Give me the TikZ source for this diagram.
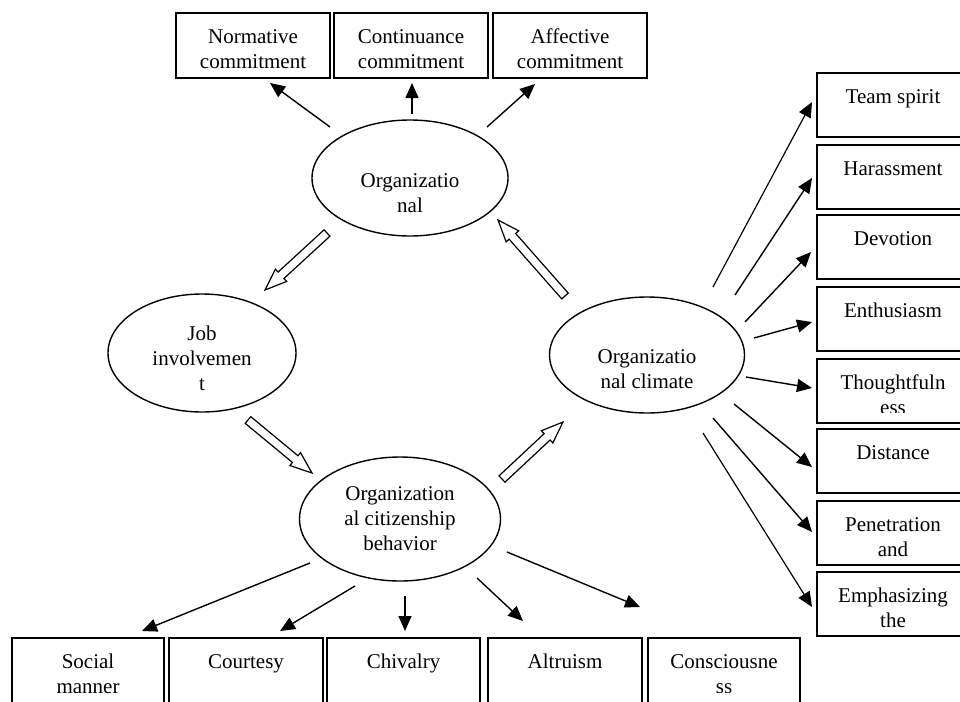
\documentclass[tikz,border=0pt]{standalone}
\usepackage{fontspec}
\setmainfont{Liberation Serif}
\usetikzlibrary{shapes.geometric,shapes.arrows,arrows.meta,calc}
\newcommand{\fs}{\rule{0pt}{16pt}}
\begin{document}
\begin{tikzpicture}[x=1pt,y=-1pt,
  box/.style={draw, line width=1.4pt, rectangle, inner sep=0pt, outer sep=0pt, anchor=north west},
  topbox/.style={box, minimum width=154pt, minimum height=65pt},
  rbox/.style={box, minimum width=152pt, minimum height=64pt},
  bbox/.style={box, minimum height=75pt},
  ell/.style={draw, line width=1.4pt, ellipse, inner sep=0pt},
  txt/.style={font=\fontsize{21}{25}\selectfont, align=center, inner sep=0pt, anchor=north},
  arr/.style={line width=1.4pt, -{Triangle[length=15pt,width=13pt]}},
  hollow/.style={single arrow, draw, line width=1.2pt, fill=white, inner xsep=0pt, inner ysep=3.75pt,
    outer sep=0pt, minimum width=15.5pt, single arrow head extend=4pt, single arrow tip angle=42,
    text height=0pt, text depth=0pt, anchor=tail}]
\useasboundingbox (0,0) rectangle (960,701);
\clip (0,0) rectangle (960,701);

% ---- ellipses
\node[ell, minimum width=196pt, minimum height=116pt] (org) at (410,178) {};
\node[txt] (orgt) at (410,171) {\fs Organizatio\\nal};
\node[ell, minimum width=188pt, minimum height=118pt] (job) at (202,353) {};
\node[txt] (jobt) at (202,324) {\fs Job\\involvemen\\t};
\node[ell, minimum width=201pt, minimum height=124pt] (ocb) at (400,519) {};
\node[txt] (ocbt) at (400,484) {\fs Organization\\al citizenship\\behavior};
\node[ell, minimum width=195pt, minimum height=116pt] (clim) at (647,355) {};
\node[txt] (climt) at (647,347) {\fs Organizatio\\nal climate};

% ---- top boxes
\node[topbox] (norm) at (176,13) {};
\node[txt] (normt) at ($(norm.north)+(0,14)$) {\fs Normative\\commitment};
\node[topbox] (cont) at (334,13) {};
\node[txt] (contt) at ($(cont.north)+(0,14)$) {\fs Continuance\\commitment};
\node[topbox] (aff) at (493,13) {};
\node[txt] (afft) at ($(aff.north)+(0,14)$) {\fs Affective\\commitment};

% ---- right boxes
\node[rbox] (ts) at (817,73) {};
\node[txt] (tst) at ($(ts.north)+(0,14)$) {\fs Team spirit};
\node[rbox] (har) at (817,145) {};
\node[txt] (hart) at ($(har.north)+(0,14)$) {\fs Harassment};
\node[rbox] (dev) at (817,215) {};
\node[txt] (devt) at ($(dev.north)+(0,14)$) {\fs Devotion};
\node[rbox] (ent) at (817,287) {};
\node[txt] (entt) at ($(ent.north)+(0,14)$) {\fs Enthusiasm};
\node[rbox] (tho) at (817,359) {};
\begin{scope}
\clip (817,359) rectangle (969,412);
\node[txt] (thot) at ($(tho.north)+(0,14)$) {\fs Thoughtfuln\\ess};
\end{scope}
\node[rbox] (dis) at (817,429) {};
\node[txt] (dist) at ($(dis.north)+(0,14)$) {\fs Distance};
\node[rbox] (pen) at (817,501) {};
\node[txt] (pent) at ($(pen.north)+(0,14)$) {\fs Penetration\\and};
\node[rbox] (emp) at (817,572) {};
\node[txt] (empt) at ($(emp.north)+(0,14)$) {\fs Emphasizing\\the};

% ---- bottom boxes
\node[bbox, minimum width=152pt] (soc) at (12,638) {};
\node[txt] (soct) at ($(soc.north)+(0,14)$) {\fs Social\\manner};
\node[bbox, minimum width=154pt] (cour) at (169,638) {};
\node[txt] (court) at ($(cour.north)+(0,14)$) {\fs Courtesy};
\node[bbox, minimum width=153pt] (chiv) at (327,638) {};
\node[txt] (chivt) at ($(chiv.north)+(0,14)$) {\fs Chivalry};
\node[bbox, minimum width=154pt] (alt) at (488,638) {};
\node[txt] (altt) at ($(alt.north)+(0,14)$) {\fs Altruism};
\node[bbox, minimum width=152pt] (con) at (648,638) {};
\begin{scope}
\clip (648,638) rectangle (800,692);
\node[txt] (cont2) at ($(con.north)+(0,14)$) {\fs Consciousne\\ss};
\end{scope}

% ---- filled arrows: organizational -> commitments
\draw[arr] ($(org)+(-80,-51)$) -- ($(norm.south)+(17,5)$);
\draw[arr] ($(org)+(2,-64)$) -- ($(cont.south)+(1,5)$);
\draw[arr] ($(org)+(77,-51)$) -- ($(aff.south)+(-35,6)$);

% ---- climate -> right boxes
\draw[arr, line width=1.2pt] ($(clim)+(66,-68)$) -- ($(ts.west)+(-5,-3)$);
\draw[arr] ($(clim)+(88,-60)$) -- ($(har.west)+(-5,1)$);
\draw[arr] ($(clim)+(98,-33)$) -- ($(dev.west)+(-6,5)$);
\draw[arr] ($(clim)+(107,-17)$) -- ($(ent.west)+(-5,3)$);
\draw[arr] ($(clim)+(99,22)$) -- ($(tho.west)+(-5,-3)$);
\draw[arr] ($(clim)+(87,49)$) -- ($(dis.west)+(-5,6)$);
\draw[arr] ($(clim)+(66,63)$) -- ($(pen.west)+(-5,-1)$);
\draw[arr, line width=1.2pt] ($(clim)+(56,78)$) -- ($(emp.west)+(-5,3)$);

% ---- OCB -> bottom boxes
\draw[arr] ($(ocb)+(-90,44)$) -- ($(soc.north)+(54,-7)$);
\draw[arr] ($(ocb)+(-45,67)$) -- ($(cour.north)+(34,-7)$);
\draw[arr] ($(ocb)+(5,77)$) -- ($(chiv.north)+(1.5,-7)$);
\draw[arr] ($(ocb)+(77,59)$) -- ($(alt.north)+(-42,-17)$);
\draw[arr] ($(ocb)+(107,33)$) -- ($(con.north)+(-84,-31)$);

% ---- hollow arrows (cycle)
\coordinate (h1t) at ($(org)+(-83,55)$);
\coordinate (h1h) at ($(job)+(63,-63)$);
\coordinate (h2t) at ($(job)+(46,67)$);
\coordinate (h2h) at ($(ocb)+(-88,-46)$);
\coordinate (h3t) at ($(ocb)+(102,-40)$);
\coordinate (h3h) at ($(clim)+(-84,67)$);
\coordinate (h4t) at ($(clim)+(-82,-59)$);
\coordinate (h4h) at ($(org)+(88,42)$);
\path let \p1=($(h1h)-(h1t)$), \n1={atan2(\y1,\x1)}, \n2={veclen(\x1,\y1)} in
  node[hollow, minimum height=\n2, rotate=\n1] (ha1) at (h1t) {};
\path let \p1=($(h2h)-(h2t)$), \n1={atan2(\y1,\x1)}, \n2={veclen(\x1,\y1)} in
  node[hollow, minimum height=\n2, rotate=\n1] (ha2) at (h2t) {};
\path let \p1=($(h3h)-(h3t)$), \n1={atan2(\y1,\x1)}, \n2={veclen(\x1,\y1)} in
  node[hollow, minimum height=\n2, rotate=\n1] (ha3) at (h3t) {};
\path let \p1=($(h4h)-(h4t)$), \n1={atan2(\y1,\x1)}, \n2={veclen(\x1,\y1)} in
  node[hollow, minimum height=\n2, rotate=\n1] (ha4) at (h4t) {};
\end{tikzpicture}
\end{document}
